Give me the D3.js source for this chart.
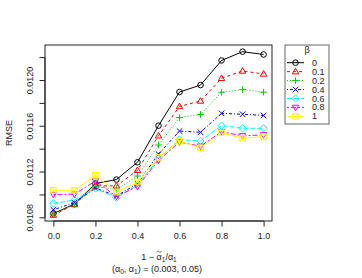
<!DOCTYPE html>
<html><head><meta charset="utf-8">
<script src="https://cdn.jsdelivr.net/npm/d3@7"></script>
<style>body{margin:0;background:#fff}svg{display:block}text{font-family:"Liberation Sans",Arial,sans-serif}</style>
</head><body>
<svg id="c" width="362" height="278"></svg>
<script>
const xValues = [0,0.1,0.2,0.3,0.4,0.5,0.6,0.7,0.8,0.9,1.0];
const betaLabels = ["0","0.1","0.2","0.4","0.6","0.8","1"];
const s0  = [0.010833,0.010916,0.011095,0.011130,0.011281,0.011601,0.011895,0.011956,0.012171,0.012248,0.012223];
const s01 = [0.010820,0.010912,0.011074,0.011075,0.011211,0.011513,0.011769,0.011817,0.012015,0.012079,0.012053];
const s02 = [0.010829,0.010912,0.011069,0.011043,0.011161,0.011432,0.011672,0.011699,0.011893,0.011917,0.011894];
const s04 = [0.010866,0.010928,0.011056,0.010986,0.011094,0.011353,0.011554,0.011543,0.011709,0.011701,0.011690];
const s06 = [0.010922,0.010951,0.011052,0.010971,0.011082,0.011312,0.011479,0.011467,0.011601,0.011578,0.011578];
const s08 = [0.010999,0.011002,0.011117,0.010982,0.011069,0.011298,0.011458,0.011421,0.011548,0.011512,0.011521];
const s1  = [0.011036,0.011036,0.011167,0.011021,0.011109,0.011323,0.011464,0.011408,0.011540,0.011491,0.011505];
const seriesValues = [s0,s01,s02,s04,s06,s08,s1];
const xTicks = [0,0.2,0.4,0.6,0.8,1.0];
const yTicks = [0.0108,0.0110,0.0112,0.0114,0.0116,0.0118,0.0120,0.0122];
const yTickLabels = ["0.0108","","0.0112","","0.0116","","0.0120",""];

const colors = ["#000000","#FF0000","#00CD00","#0000FF","#00FFFF","#FF00FF","#FFFF00"];
const dashes = [null,"3,3","1,2","1,2,3,2","5,2","2,2,5,2",null];
const shapes = ["circle","triangle","plus","cross","diamond","triangleDown","squareX"];

const svg = d3.select("#c");
const L=45,R=272,T=45,B=221;
const x = d3.scaleLinear().domain([-0.04,1.04]).range([L,R]);
const y = d3.scaleLinear().domain([0.0107677,0.0123061]).range([B,T]);

function marker(g, shape, cx, cy, col){
  const s=2.8;
  if(shape==="circle") g.append("circle").attr("cx",cx).attr("cy",cy).attr("r",s).attr("fill","none").attr("stroke",col);
  else if(shape==="triangle") g.append("path").attr("d",`M${cx},${cy-s*1.2}L${cx+s*1.15},${cy+s*0.8}L${cx-s*1.15},${cy+s*0.8}Z`).attr("fill","none").attr("stroke",col);
  else if(shape==="triangleDown") g.append("path").attr("d",`M${cx},${cy+s*1.2}L${cx+s*1.15},${cy-s*0.8}L${cx-s*1.15},${cy-s*0.8}Z`).attr("fill","none").attr("stroke",col);
  else if(shape==="plus") g.append("path").attr("d",`M${cx-s*1.2},${cy}H${cx+s*1.2}M${cx},${cy-s*1.2}V${cy+s*1.2}`).attr("fill","none").attr("stroke",col);
  else if(shape==="cross") g.append("path").attr("d",`M${cx-s},${cy-s}L${cx+s},${cy+s}M${cx-s},${cy+s}L${cx+s},${cy-s}`).attr("fill","none").attr("stroke",col);
  else if(shape==="diamond") g.append("path").attr("d",`M${cx},${cy-s*1.3}L${cx+s*1.3},${cy}L${cx},${cy+s*1.3}L${cx-s*1.3},${cy}Z`).attr("fill","none").attr("stroke",col);
  else if(shape==="squareX") g.append("path").attr("d",`M${cx-s},${cy-s}H${cx+s}V${cy+s}H${cx-s}ZM${cx-s},${cy-s}L${cx+s},${cy+s}M${cx-s},${cy+s}L${cx+s},${cy-s}`).attr("fill","none").attr("stroke",col);
}

seriesValues.forEach((vals,i)=>{
  const line = d3.line().x((d,j)=>x(xValues[j])).y(d=>y(d));
  svg.append("path").attr("d",line(vals)).attr("fill","none").attr("stroke",colors[i])
    .attr("stroke-width",1).attr("stroke-dasharray",dashes[i]);
});
seriesValues.forEach((vals,i)=>{
  const g = svg.append("g");
  vals.forEach((v,j)=>marker(g,shapes[i],x(xValues[j]),y(v),colors[i]));
});

svg.append("rect").attr("x",L).attr("y",T).attr("width",R-L).attr("height",B-T).attr("fill","none").attr("stroke","#222");

const xa = svg.append("g").attr("transform",`translate(0,${B})`)
  .call(d3.axisBottom(x).tickValues(xTicks).tickFormat(d3.format(".1f")).tickSize(5.5).tickPadding(6));
xa.select(".domain").attr("d",`M${x(0)},0H${x(1)}`).attr("stroke","#222");
xa.selectAll("line").attr("stroke","#222");
xa.selectAll("text").attr("font-size",9).attr("fill","#222").attr("font-family","Liberation Sans, Arial, sans-serif");

const ya = svg.append("g").attr("transform",`translate(${L},0)`)
  .call(d3.axisLeft(y).tickValues(yTicks).tickFormat((d,i)=>yTickLabels[i]).tickSize(5.5).tickPadding(3));
ya.select(".domain").attr("d",`M0,${y(0.0108)}V${y(0.0122)}`).attr("stroke","#222");
ya.selectAll("line").attr("stroke","#222");
ya.selectAll("text").attr("font-size",9).attr("fill","#222").attr("font-family","Liberation Sans, Arial, sans-serif")
  .attr("text-anchor","middle").attr("dy",null).attr("x",null)
  .attr("transform","translate(-15,0) rotate(-90)").attr("dominant-baseline","central");

svg.append("text").attr("transform","translate(9,133) rotate(-90)").attr("text-anchor","middle")
  .attr("dominant-baseline","central").attr("font-size",9).attr("fill","#222").text("RMSE");

const t1 = svg.append("text").attr("x",159).attr("y",259.5).attr("text-anchor","middle").attr("font-size",9).attr("fill","#222");
t1.append("tspan").text("1 \u2212 ");
t1.append("tspan").text("\u03B1");
t1.append("tspan").attr("font-size",6.5).attr("dy",2).text("1");
t1.append("tspan").attr("dy",-2).text("/");
t1.append("tspan").text("\u03B1");
t1.append("tspan").attr("font-size",6.5).attr("dy",2).text("1");
// tilde accent above the first alpha, drawn as a path
try {
  const ext = t1.node().getExtentOfChar(4);
  const cx = ext.x+ext.width/2, cy = 259.5-7.8;
  svg.append("path").attr("d",`M${cx-2.4},${cy+0.7}C${cx-1.4},${cy-1.2} ${cx-0.6},${cy-0.6} ${cx},${cy}S${cx+1.4},${cy+1.2} ${cx+2.4},${cy-0.7}`)
    .attr("fill","none").attr("stroke","#222").attr("stroke-width",0.7);
} catch(e) {}

const t2 = svg.append("text").attr("x",157).attr("y",272).attr("text-anchor","middle").attr("font-size",9).attr("fill","#222");
t2.append("tspan").text("(");
t2.append("tspan").text("\u03B1");
t2.append("tspan").attr("font-size",6.5).attr("dy",2).text("0");
t2.append("tspan").attr("dy",-2).text(", ");
t2.append("tspan").text("\u03B1");
t2.append("tspan").attr("font-size",6.5).attr("dy",2).text("1");
t2.append("tspan").attr("dy",-2).text(") = (0.003, 0.05)");

svg.append("rect").attr("x",285).attr("y",45).attr("width",44).attr("height",79).attr("fill","#fff").attr("stroke","#666");
svg.append("text").attr("x",307).attr("y",50).attr("text-anchor","middle").attr("dominant-baseline","central")
  .attr("font-size",9).attr("fill","#222").text("\u03B2");
betaLabels.forEach((lab,i)=>{
  const yy = 62.7 + i*8.95;
  const g = svg.append("g");
  g.append("line").attr("x1",287).attr("x2",304).attr("y1",yy).attr("y2",yy).attr("stroke",colors[i]).attr("stroke-dasharray",dashes[i]);
  marker(g,shapes[i],295.5,yy,colors[i]);
  g.append("text").attr("x",312).attr("y",yy).attr("dominant-baseline","central").attr("font-size",9).attr("fill","#222").text(lab);
});
</script>
</body></html>
